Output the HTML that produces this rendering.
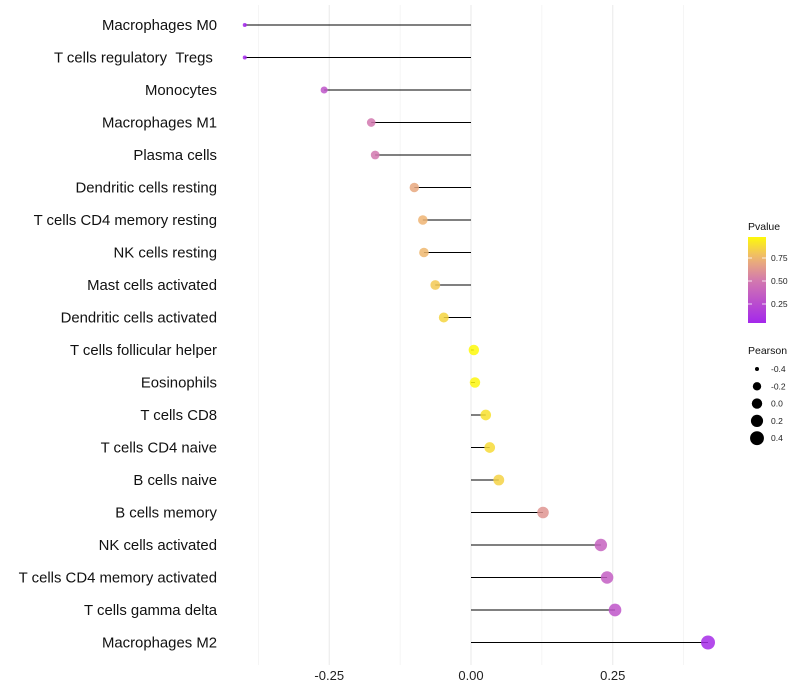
<!DOCTYPE html>
<html><head><meta charset="utf-8"><style>
body{margin:0;background:#fff;font-family:"Liberation Sans",sans-serif}
svg{display:block}
</style></head><body>
<svg id="c" width="800" height="700" xmlns="http://www.w3.org/2000/svg"></svg>
<script>
const categories=["Macrophages M0","T cells regulatory \u00a0Tregs\u00a0","Monocytes","Macrophages M1","Plasma cells","Dendritic cells resting","T cells CD4 memory resting","NK cells resting","Mast cells activated","Dendritic cells activated","T cells follicular helper","Eosinophils","T cells CD8","T cells CD4 naive","B cells naive","B cells memory","NK cells activated","T cells CD4 memory activated","T cells gamma delta","Macrophages M2"];
const pearson=[-0.399,-0.399,-0.259,-0.176,-0.169,-0.100,-0.085,-0.083,-0.063,-0.048,0.005,0.007,0.026,0.033,0.049,0.127,0.229,0.240,0.254,0.418];
const pvalues=[0.03,0.03,0.30,0.50,0.50,0.70,0.75,0.76,0.82,0.86,0.98,0.97,0.90,0.88,0.85,0.62,0.38,0.35,0.30,0.06];
const xTicks=[-0.25,0,0.25];
const xTickLabels=["-0.25","0.00","0.25"];
const xMinor=[-0.375,-0.125,0.125,0.375];
const legP=[0.75,0.5,0.25];
const legPLabels=["0.75","0.50","0.25"];
const legR=[-0.4,-0.2,0.0,0.2,0.4];
const legRLabels=["-0.4","-0.2","0.0","0.2","0.4"];

const svg=document.getElementById('c');
const NS="http://www.w3.org/2000/svg";
const X=v=>471+v*567;
const Y=i=>25+i*32.5;
function R(v){
  const vs=[-0.42,-0.2,0,0.2,0.42], rs=[1.8,4.2,5.2,6.1,7.0];
  if(v<=vs[0])return rs[0];
  for(let k=0;k<vs.length-1;k++){if(v<=vs[k+1]){const t=(v-vs[k])/(vs[k+1]-vs[k]);return rs[k]+(rs[k+1]-rs[k])*t;}}
  return rs[rs.length-1];
}
function col(p){
  const stops=[[0,[160,32,240]],[0.5,[210,120,175]],[0.75,[238,180,115]],[1,[255,255,0]]];
  p=Math.max(0,Math.min(1,p));
  for(let k=0;k<stops.length-1;k++){const a=stops[k],b=stops[k+1];
    if(p<=b[0]){const t=(p-a[0])/(b[0]-a[0]);return 'rgb('+a[1].map((c,j)=>Math.round(c+(b[1][j]-c)*t)).join(',')+')';}}
  return 'rgb(255,255,0)';
}
function el(t,a,txt){const e=document.createElementNS(NS,t);for(const k in a)e.setAttribute(k,a[k]);if(txt!=null)e.textContent=txt;svg.appendChild(e);return e;}

xMinor.forEach(v=>{const g=el('line',{x1:X(v),x2:X(v),y1:5,y2:665,stroke:'#f2f2f2','stroke-width':0.8});

});
xTicks.forEach((v,i)=>{const g=el('line',{x1:X(v),x2:X(v),y1:5,y2:665,stroke:'#ebebeb','stroke-width':1.1});


const t=el('text',{x:X(v),y:680,'text-anchor':'middle','font-size':13,fill:'#222'},xTickLabels[i]);

});

categories.forEach((c,i)=>{
  const t=el('text',{x:217,y:Y(i)+5,'text-anchor':'end','font-size':14.9,fill:'#111'},c);
  
  
  const l=el('line',{x1:X(0),x2:X(pearson[i]),y1:Y(i),y2:Y(i),stroke:'#000','stroke-width':1});
  
  
  const d=el('circle',{cx:X(pearson[i]),cy:Y(i),r:R(pearson[i]),fill:col(pvalues[i]),'fill-opacity':0.85});
  
  
});

let t=el('text',{x:748,y:230,'font-size':10.5,fill:'#111'},'Pvalue');


const defs=el('defs',{});
const lg=document.createElementNS(NS,'linearGradient');
lg.setAttribute('id','pg');lg.setAttribute('x1','0');lg.setAttribute('y1','1');lg.setAttribute('x2','0');lg.setAttribute('y2','0');
for(let k=0;k<=10;k++){const s=document.createElementNS(NS,'stop');s.setAttribute('offset',k/10);s.setAttribute('stop-color',col(0.04+k*0.094));lg.appendChild(s);}
defs.appendChild(lg);
const PY=p=>281-(p-0.5)*92;
const cb=el('rect',{x:748,y:237,width:18,height:86,fill:'url(#pg)'});


legP.forEach((p,i)=>{
  el('line',{x1:748,x2:752,y1:PY(p),y2:PY(p),stroke:'#fff','stroke-width':0.8});
  el('line',{x1:762,x2:766,y1:PY(p),y2:PY(p),stroke:'#fff','stroke-width':0.8});
  const tt=el('text',{x:771,y:PY(p)+3,'font-size':8.5,fill:'#222'},legPLabels[i]);
  
  
});
t=el('text',{x:748,y:354,'font-size':10.5,fill:'#111'},'Pearson');


legR.forEach((v,i)=>{
  const cy=369+i*17.3;
  const c=el('circle',{cx:757,cy:cy,r:R(v),fill:'#000'});
  
  
  const tt=el('text',{x:771,y:cy+3,'font-size':8.5,fill:'#222'},legRLabels[i]);
  
  
});
</script>
</body></html>
